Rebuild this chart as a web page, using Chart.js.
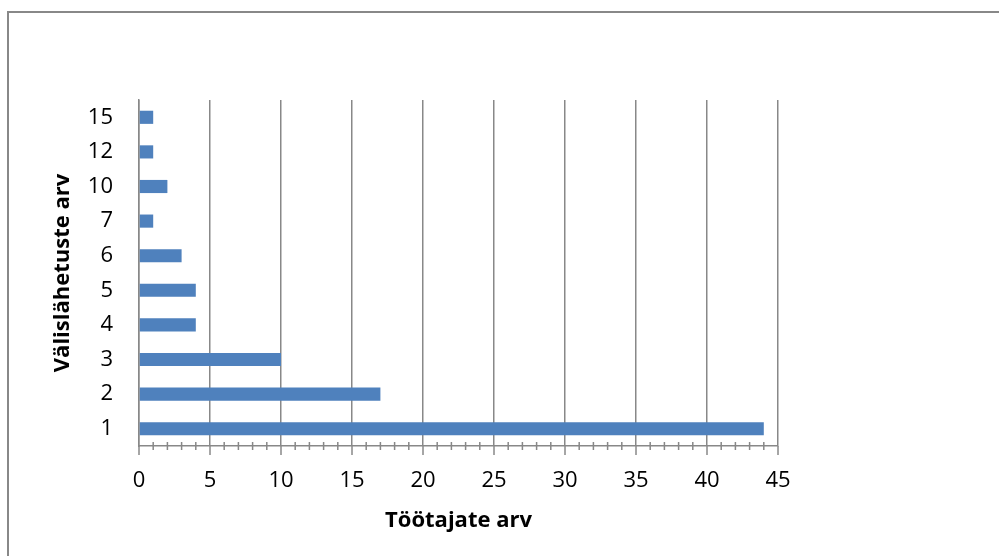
<!DOCTYPE html>
<html>
<head>
<meta charset="utf-8">
<script src="https://cdn.jsdelivr.net/npm/chart.js@4/dist/chart.umd.min.js"></script>
<style>
  html, body { margin: 0; padding: 0; background: #ffffff; }
  canvas { display: block; }
</style>
</head>
<body>
<canvas id="chart" width="999" height="556"></canvas>
<script>
// Number of business trips (category) and employee count per category
const tripCounts = ['1', '2', '3', '4', '5', '6', '7', '10', '12', '15'];
const employeeCounts = [44, 17, 10, 4, 4, 3, 1, 2, 1, 1];
const xMin = 0;
const xMax = 45;
const xMajorStep = 5;

const axisGray = '#888888';
const fontFamily = '"Open Sans", "Liberation Sans", sans-serif';

// Minor/major tick marks on the value axis plus the outer frame lines
const axisDecor = {
  id: 'axisDecor',
  afterDraw(chart) {
    const { ctx, chartArea, scales: { x } } = chart;
    const yAxis = chartArea.bottom;
    ctx.save();
    ctx.strokeStyle = axisGray;
    ctx.lineWidth = 1.5;
    for (let v = xMin; v <= xMax; v++) {
      const px = x.getPixelForValue(v);
      const major = v % xMajorStep === 0;
      ctx.beginPath();
      ctx.moveTo(px, major ? yAxis : yAxis - 4);
      ctx.lineTo(px, yAxis + (major ? 9 : 4));
      ctx.stroke();
    }
    ctx.lineWidth = 2;
    ctx.beginPath();
    ctx.moveTo(8, chart.height);
    ctx.lineTo(8, 12);
    ctx.lineTo(chart.width, 12);
    ctx.stroke();
    ctx.restore();
  }
};

new Chart(document.getElementById('chart'), {
  type: 'bar',
  data: {
    labels: tripCounts,
    datasets: [{
      data: employeeCounts,
      backgroundColor: '#4f81bd',
      borderWidth: 0,
      categoryPercentage: 0.5,
      barPercentage: 0.76
    }]
  },
  options: {
    indexAxis: 'y',
    responsive: false,
    animation: false,
    layout: { padding: { left: 0, top: 100, right: 221, bottom: 0 } },
    plugins: {
      legend: { display: false },
      tooltip: { enabled: false }
    },
    scales: {
      x: {
        type: 'linear',
        min: xMin,
        max: xMax,
        ticks: {
          stepSize: 1,
          autoSkip: false,
          maxRotation: 0,
          padding: 22,
          color: '#000000',
          font: { family: fontFamily, size: 22 },
          callback: (v) => (v % xMajorStep === 0 ? String(v) : '')
        },
        grid: {
          drawTicks: false,
          lineWidth: 1.5,
          color: (c) => (c.tick && c.tick.value % xMajorStep === 0 ? axisGray : 'rgba(0,0,0,0)')
        },
        border: { display: true, color: axisGray, width: 1.5 },
        title: {
          display: true,
          text: 'Töötajate arv',
          color: '#000000',
          font: { family: fontFamily, size: 22, weight: 'bold' },
          padding: { top: 0, bottom: 22 }
        },
        afterFit: (scale) => { scale.height = 110; }
      },
      y: {
        reverse: true,
        ticks: {
          padding: 26,
          color: '#000000',
          font: { family: fontFamily, size: 22 }
        },
        grid: { display: false, drawTicks: false },
        border: { display: true, color: axisGray, width: 1.5 },
        title: {
          display: true,
          text: 'Välislähetuste arv',
          color: '#000000',
          font: { family: fontFamily, size: 22, weight: 'bold' },
          padding: { top: 50, bottom: 0 }
        },
        afterFit: (scale) => { scale.width = 139; }
      }
    }
  },
  plugins: [axisDecor]
});
</script>
</body>
</html>
